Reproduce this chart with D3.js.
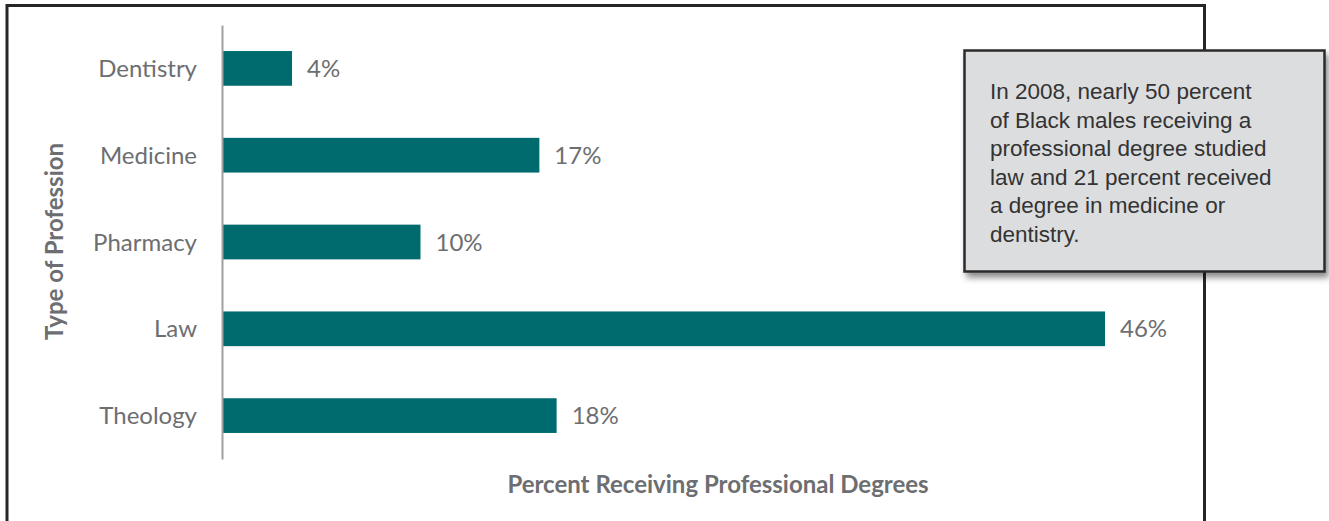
<!DOCTYPE html>
<html><head><meta charset="utf-8">
<script src="https://cdn.jsdelivr.net/npm/d3@7"></script>
<style>body{margin:0;background:#fff}svg{display:block}</style>
</head><body>
<script>
const categories = ["Dentistry","Medicine","Pharmacy","Law","Theology"];
const values = [3.6, 16.5, 10.3, 46.0, 17.4];
const valueLabels = ["4%","17%","10%","46%","18%"];
const yTitle = "Type of Profession";
const xTitle = "Percent Receiving Professional Degrees";
const noteLines = ["In 2008, nearly 50 percent","of Black males receiving a","professional degree studied","law and 21 percent received","a degree in medicine or","dentistry."];

const W = 1329, H = 521;
const svg = d3.select("body").append("svg").attr("width", W).attr("height", H);
const defs = svg.append("defs");
const f = defs.append("filter").attr("id","sh").attr("x","-10%").attr("y","-10%").attr("width","130%").attr("height","130%");
f.append("feDropShadow").attr("dx",3).attr("dy",5).attr("stdDeviation",3).attr("flood-color","#000").attr("flood-opacity",0.45);

// frame
svg.append("path").attr("d","M7,521 V5.5 H1204.5 V521").attr("fill","none").attr("stroke","#262626").attr("stroke-width",3);

const x = d3.scaleLinear().domain([0,46]).range([223,1105]);
const y = d3.scaleBand().domain(categories).range([25,459]).paddingInner(0.6).paddingOuter(0.3);

const font = "Lato, 'Open Sans', sans-serif";
const g = svg.append("g");
g.selectAll("rect.bar").data(categories).join("rect").attr("class","bar")
  .attr("x", x(0)).attr("y", d => y(d))
  .attr("width", (d,i) => x(values[i]) - x(0)).attr("height", y.bandwidth())
  .attr("fill","#006b6e");
g.selectAll("text.vl").data(categories).join("text").attr("class","vl")
  .attr("x",(d,i)=>x(values[i])+15).attr("y",d=>y(d)+y.bandwidth()/2).attr("dy","0.36em")
  .attr("font-family",font).attr("font-size",24).attr("fill","#6d6e71")
  .text((d,i)=>valueLabels[i]);

const yAxis = d3.axisLeft(y).tickSize(0).tickPadding(25);
const ya = svg.append("g").attr("transform","translate(222,0)").call(yAxis);
ya.select(".domain").attr("stroke","#a0a0a0").attr("stroke-width",2);
ya.selectAll("text").attr("font-family",font).attr("font-size",24).attr("fill","#6d6e71").attr("dy","0.36em");

svg.append("text").attr("transform","translate(63,241.5) rotate(-90)").attr("text-anchor","middle")
  .attr("font-family",font).attr("font-weight","bold").attr("font-size",24).attr("fill","#6d6e71").text(yTitle);
svg.append("text").attr("x",718).attr("y",493).attr("text-anchor","middle")
  .attr("font-family",font).attr("font-weight","bold").attr("font-size",24).attr("fill","#6d6e71").text(xTitle);

// callout
svg.append("rect").attr("x",964.5).attr("y",50.5).attr("width",360).attr("height",221)
  .attr("fill","#dcdddf").attr("stroke","#2b2b2b").attr("stroke-width",2.5).attr("filter","url(#sh)");
svg.append("g").selectAll("text").data(noteLines).join("text")
  .attr("x",990).attr("y",(d,i)=>99+i*28.5)
  .attr("font-family","'Liberation Sans', Arial, sans-serif").attr("font-size",22.5).attr("fill","#333")
  .text(d=>d);
</script>
</body></html>
